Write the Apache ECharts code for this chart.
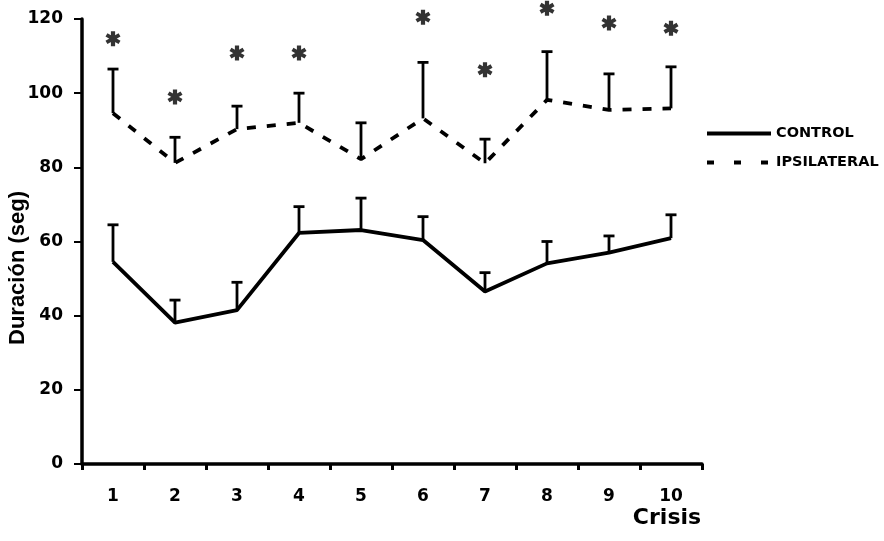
<!DOCTYPE html>
<html>
<head>
<meta charset="utf-8">
<script src="https://cdn.jsdelivr.net/npm/echarts@6/dist/echarts.min.js"></script>
<style>
html,body{margin:0;padding:0;background:#fff;}
#chart{width:884px;height:541px;}
</style>
</head>
<body>
<div id="chart"></div>
<script>
const categories = ['1','2','3','4','5','6','7','8','9','10'];
const yTicks = [0, 20, 40, 60, 80, 100, 120];
const controlMean = [54.5, 38.1, 41.5, 62.3, 63.1, 60.4, 46.5, 54.1, 57.0, 60.9];
const controlTop  = [64.5, 44.2, 49.0, 69.4, 71.7, 66.7, 51.6, 60.0, 61.5, 67.2];
const ipsiMean = [94.6, 81.2, 90.3, 92.0, 82.2, 93.2, 81.1, 98.2, 95.5, 95.9];
const ipsiTop  = [106.5, 88.1, 96.5, 100.0, 92.0, 108.3, 87.6, 111.2, 105.2, 107.1];
const asteriskCats = [0, 1, 2, 3, 5, 6, 7, 8, 9];
const asteriskVals = [114.7, 99.0, 110.8, 110.8, 120.5, 106.3, 122.9, 118.9, 117.5];

const FONT = 'DejaVu Sans';
const chart = echarts.init(document.getElementById('chart'), null, {renderer: 'canvas'});

function errData(mean, top) {
  return mean.map((m, i) => [i, m, top[i]]);
}
function renderErr(params, api) {
  const x = api.value(0);
  const p1 = api.coord([x, api.value(1)]);
  const p2 = api.coord([x, api.value(2)]);
  const style = {stroke: '#000', lineWidth: 2.8, fill: null};
  return {
    type: 'group',
    children: [
      {type: 'line', shape: {x1: p1[0], y1: p1[1], x2: p2[0], y2: p2[1]}, style: style},
      {type: 'line', shape: {x1: p2[0] - 5.5, y1: p2[1], x2: p2[0] + 5.5, y2: p2[1]}, style: style}
    ]
  };
}
const asteriskPath = 'path://M-0.28,-1 L0.28,-1 L0.28,1 L-0.28,1 Z M0.736,0.725 L-0.996,-0.275 L-0.736,-0.725 L0.996,0.275 Z M-0.736,0.725 L-0.996,0.275 L0.736,-0.725 L0.996,-0.275 Z';

const option = {
  animation: false,
  backgroundColor: '#fff',
  grid: {left: 82, right: 182, top: 19, bottom: 77},
  legend: {
    orient: 'vertical',
    left: 705,
    top: 126,
    padding: 0,
    itemWidth: 64,
    itemHeight: 14,
    itemGap: 14,
    itemStyle: {color: 'rgba(0,0,0,0)', borderWidth: 0, opacity: 0},
    textStyle: {fontFamily: FONT, fontWeight: 'bold', fontSize: 14.5, color: '#000'},
    data: [
      {name: 'CONTROL', lineStyle: {width: 4, color: '#000', type: 'solid'}},
      {name: 'IPSILATERAL', lineStyle: {width: 4, color: '#000', type: [7, 20]}}
    ]
  },
  xAxis: {
    type: 'category',
    data: categories,
    boundaryGap: true,
    axisLine: {lineStyle: {color: '#000', width: 3.5}},
    axisTick: {show: true, length: 6, lineStyle: {color: '#000', width: 3}},
    axisLabel: {color: '#000', fontFamily: FONT, fontWeight: 'bold', fontSize: 17, margin: 24}
  },
  yAxis: {
    type: 'value',
    min: yTicks[0],
    max: yTicks[yTicks.length - 1],
    interval: 20,
    splitLine: {show: false},
    axisLine: {show: true, lineStyle: {color: '#000', width: 3.5}},
    axisTick: {show: true, length: 8, lineStyle: {color: '#000', width: 2}},
    axisLabel: {color: '#000', fontFamily: FONT, fontWeight: 'bold', fontSize: 17, margin: 19}
  },
  graphic: [
    {
      type: 'text',
      x: 18, y: 268,
      rotation: Math.PI / 2,
      style: {text: 'Duración (seg)', fontFamily: 'Liberation Sans', fontWeight: 'bold', fontSize: 22,
        fill: '#000', textAlign: 'center', textVerticalAlign: 'middle'}
    },
    {
      type: 'text',
      x: 667, y: 518,
      style: {text: 'Crisis', fontFamily: FONT, fontWeight: 'bold', fontSize: 22,
        fill: '#000', textAlign: 'center', textVerticalAlign: 'middle'}
    }
  ],
  series: [
    {
      name: 'CONTROL',
      type: 'line',
      data: controlMean,
      symbol: 'none',
      lineStyle: {color: '#000', width: 3.8, type: 'solid'},
      itemStyle: {color: '#000'},
      z: 3
    },
    {
      name: 'IPSILATERAL',
      type: 'line',
      data: ipsiMean,
      symbol: 'none',
      lineStyle: {color: '#000', width: 3.8, type: [9, 11]},
      itemStyle: {color: '#000'},
      z: 3
    },
    {
      type: 'custom',
      renderItem: renderErr,
      data: errData(controlMean, controlTop),
      z: 4
    },
    {
      type: 'custom',
      renderItem: renderErr,
      data: errData(ipsiMean, ipsiTop),
      z: 4
    },
    {
      type: 'scatter',
      data: asteriskCats.map((c, i) => [c, asteriskVals[i]]),
      symbol: asteriskPath,
      symbolSize: 15,
      itemStyle: {color: '#000'},
      clip: false,
      z: 5
    }
  ]
};
chart.setOption(option);
</script>
</body>
</html>
